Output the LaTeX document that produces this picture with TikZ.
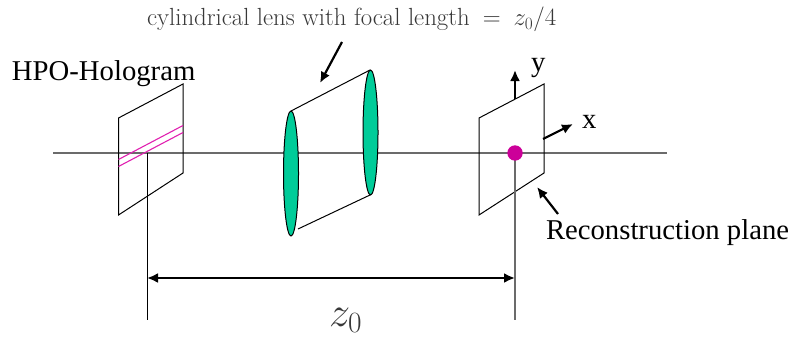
\documentclass[tikz,border=0pt]{standalone}
\usepackage{fontspec}
\newfontfamily\timesfont{Liberation Serif}
\usetikzlibrary{arrows.meta}
\definecolor{axisgray}{gray}{0.42}
\definecolor{lensgreen}{HTML}{00CC99}
\definecolor{pinkline}{HTML}{E020B0}
\definecolor{dotpink}{HTML}{CC0099}
\definecolor{softtext}{gray}{0.22}
\tikzset{
  every node/.style={inner sep=0pt,outer sep=0pt},
  lbl/.style={anchor=base west,font=\timesfont\fontsize{28.7}{31}\selectfont,text=black},
  plane/.style={draw=black,line width=1pt},
  grayline/.style={draw=axisgray,line width=1.3pt},
  fineline/.style={draw=black,line width=1pt},
  pinkstripe/.style={draw=pinkline,line width=1.1pt},
  lens/.style={draw=black,fill=lensgreen,line width=1pt},
  pointer/.style={draw=black,line width=2.2pt,-{Latex[length=11pt,width=10pt]}},
  dimline/.style={draw=black,line width=2.2pt,{Latex[length=11pt,width=10pt]}-{Latex[length=11pt,width=10pt]}},
}
\begin{document}
\begin{tikzpicture}[x=1pt,y=-1pt]
\useasboundingbox (0,0) rectangle (791,337);
% named points
\coordinate (axL) at (53,153);
\coordinate (axR) at (667,153);
\coordinate (hTL) at (118.5,118);
\coordinate (hTR) at (183,84);
\coordinate (hBR) at (183,173);
\coordinate (hBL) at (118.5,215);
\coordinate (rTL) at (479,118);
\coordinate (rTR) at (544,84);
\coordinate (rBR) at (544,173);
\coordinate (rBL) at (479,215);
\coordinate (hFoot) at (147,153);
\coordinate (hEnd) at (147,320);
\coordinate (rFoot) at (515,153);
\coordinate (rEnd) at (515,320);
\coordinate (dL) at (147,278);
\coordinate (dR) at (515,278);
% axis and planes
\draw[grayline] (axL) -- (axR);
\draw[plane] (hTL) -- (hTR) -- (hBR) -- (hBL) -- cycle;
\draw[pinkstripe] (118.5,159.5) -- (183,125.5);
\draw[pinkstripe] (118.5,166.5) -- (183,132.5);
\draw[fineline] (hFoot) -- (hEnd);
\draw[plane] (rTL) -- (rTR) -- (rBR) -- (rBL) -- cycle;
\draw[grayline] (rFoot) -- (rEnd);
\draw[dimline] (dL) -- (dR);
% lens
\draw[fineline] (291,111) -- (370,70);
\draw[fineline] (298,229) -- (370,195);
\draw[lens] (291,173.5) ellipse [x radius=7.5,y radius=62.5];
\draw[lens] (370.5,132.5) ellipse [x radius=7.5,y radius=62.5];
% dot
\fill[dotpink] (rFoot) circle [radius=7.7];
% pointers
\coordinate (lensFrom) at (342,42);
\coordinate (lensTo) at (320,83);
\coordinate (yFrom) at (515,99);
\coordinate (yTo) at (515,70);
\coordinate (xFrom) at (543,139);
\coordinate (xTo) at (573,124);
\coordinate (recFrom) at (558,214);
\coordinate (recTo) at (537,187);
\draw[pointer] (lensFrom) -- (lensTo);
\draw[pointer] (yFrom) -- (yTo);
\draw[pointer] (xFrom) -- (xTo);
\draw[pointer] (recFrom) -- (recTo);
% labels
\node[lbl] (holo) at (12,80) {HPO-Hologram};
\node[lbl] (rec) at (546,239) {Reconstruction plane};
\node[lbl] (ylab) at (531,71) {y};
\node[lbl] (xlab) at (582,128) {x};
\node[anchor=base west,text=softtext,font=\fontsize{24.8}{27}\selectfont] (top) at (147,26) {cylindrical lens with focal length\hspace{13pt}=\hspace{13pt}$z_0/4$};
\node[anchor=base west,text=softtext,font=\fontsize{24.8}{27}\selectfont] (zlab) at (329,326) {\scalebox{1.7}{$z_0$}};
\end{tikzpicture}
\end{document}
